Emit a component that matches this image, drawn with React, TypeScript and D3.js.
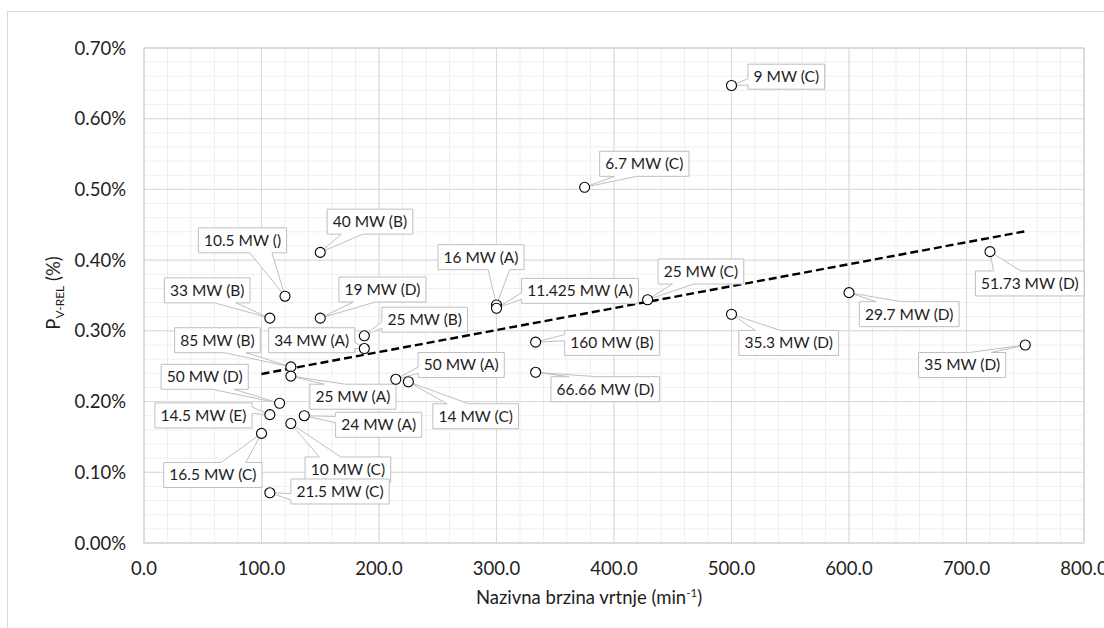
import React from 'react';
import * as d3 from 'd3';

// ---- data ----
const speeds = [500, 375, 150, 120, 107.1, 150, 187.5, 187.5, 125, 125, 214.3, 225, 115.4, 107.1, 136.4, 125, 100, 107.1, 300, 300, 428.6, 333.3, 333.3, 500, 600, 720, 750];
const losses = [0.647, 0.503, 0.411, 0.349, 0.318, 0.318, 0.293, 0.275, 0.249, 0.236, 0.2315, 0.228, 0.1976, 0.1815, 0.18, 0.169, 0.155, 0.071, 0.3366, 0.332, 0.344, 0.284, 0.2414, 0.3235, 0.354, 0.412, 0.28];
const names = ['9 MW (C)', '6.7 MW (C)', '40 MW (B)', '10.5 MW ()', '33 MW (B)', '19 MW (D)', '25 MW (B)', '34 MW (A)', '85 MW (B)', '25 MW (A)', '50 MW (A)', '14 MW (C)', '50 MW (D)', '14.5 MW (E)', '24 MW (A)', '10 MW (C)', '16.5 MW (C)', '21.5 MW (C)', '16 MW (A)', '11.425 MW (A)', '25 MW (C)', '160 MW (B)', '66.66 MW (D)', '35.3 MW (D)', '29.7 MW (D)', '51.73 MW (D)', '35 MW (D)'];
const xTicks = [0, 100, 200, 300, 400, 500, 600, 700, 800];
const yTicks = [0, 0.1, 0.2, 0.3, 0.4, 0.5, 0.6, 0.7];

// ---- layout: label box centre offsets (px) from each point ----
const labelOffsets: [number, number][] = [
  [54.8, -8.8], [59.7, -23.5], [49.7, -30.7], [-42.5, -55.9], [-62.6, -27.8], [62.2, -28.6],
  [60.4, -16.1], [-52.6, -8.3], [-73.4, -26.7], [62, 20.6], [65.4, -14.3], [67.3, 34.5],
  [-74.9, -26.5], [-66.4, 0.8], [74.4, 9.1], [57, 46], [-48.6, 41.6], [70.2, -1.3],
  [-15.5, -47.8], [83.5, -17.4], [53.3, -28.2], [76.4, 0.7], [69.7, 16.9], [57.2, 28.7],
  [60.2, 21.5], [39.8, 31.8], [-63.1, 20],
];

const FONT = 'Lato, "Open Sans", sans-serif';
const TICK_FS = 18.5;
const LABEL_FS = 15.5;
const PL = 144, PR = 1084, PT = 48, PB = 543;

function calloutPath(l: number, t: number, w: number, h: number, tipX: number, tipY: number) {
  const r = l + w, b = t + h;
  const hc = l + w / 2, vc = t + h / 2;
  const dxPos = tipX - hc, dyPos = tipY - vc;
  const dq = (dxPos * h) / w;
  const dz = Math.abs(dyPos) - Math.abs(dq);
  const xg1 = dxPos > 0 ? 7 : 2, xg2 = dxPos > 0 ? 10 : 5;
  const yg1 = dyPos > 0 ? 7 : 2, yg2 = dyPos > 0 ? 10 : 5;
  const x1 = l + (w * xg1) / 12, x2 = l + (w * xg2) / 12;
  const y1 = t + (h * yg1) / 12, y2 = t + (h * yg2) / 12;
  const pts: [number, number][] = [[l, t]];
  if (dz > 0 && dyPos < 0) pts.push([x1, t], [tipX, tipY], [x2, t]);
  pts.push([r, t]);
  if (dz <= 0 && dxPos > 0) pts.push([r, y1], [tipX, tipY], [r, y2]);
  pts.push([r, b]);
  if (dz > 0 && dyPos > 0) pts.push([x2, b], [tipX, tipY], [x1, b]);
  pts.push([l, b]);
  if (dz <= 0 && dxPos < 0) pts.push([l, y2], [tipX, tipY], [l, y1]);
  return 'M' + pts.map((p) => p[0].toFixed(2) + ',' + p[1].toFixed(2)).join('L') + 'Z';
}

function measure(text: string, size: number) {
  const c = document.createElement('canvas').getContext('2d');
  if (!c) return text.length * size * 0.5;
  c.font = `${size}px Lato`;
  return c.measureText(text).width;
}

export default function App() {
  const x = d3.scaleLinear().domain([0, 800]).range([PL, PR]);
  const y = d3.scaleLinear().domain([0, 0.7]).range([PB, PT]);
  const xMinor = d3.range(0, 801, 20);
  const yMinor = d3.range(0, 0.7001, 0.02);

  // linear regression trendline
  const mx = d3.mean(speeds)!, my = d3.mean(losses)!;
  let sxy = 0, sxx = 0;
  speeds.forEach((s, i) => { sxy += (s - mx) * (losses[i] - my); sxx += (s - mx) ** 2; });
  const slope = sxy / sxx, icpt = my - slope * mx;
  const x0 = d3.min(speeds)!, x1 = d3.max(speeds)!;
  const trend = d3.line<number>().x((d) => x(d)).y((d) => y(icpt + slope * d))([x0, x1]);

  const fx = d3.format('.1f');
  const fy = (v: number) => d3.format('.2f')(v) + '%';

  return (
    <svg width={1104} height={628} style={{ position: 'absolute', left: 0, top: 0, background: '#fff' }} fontFamily={FONT}>
      <rect x={7.5} y={11.5} width={1200} height={700} fill="#fff" stroke="#d9d9d9" />
      {/* minor grid */}
      {xMinor.map((v) => (
        <line key={'xm' + v} x1={x(v)} x2={x(v)} y1={PT} y2={PB} stroke="#efefef" strokeWidth={1} />
      ))}
      {yMinor.map((v, i) => (
        <line key={'ym' + i} x1={PL} x2={PR} y1={y(v)} y2={y(v)} stroke="#efefef" strokeWidth={1} />
      ))}
      {/* major grid */}
      {xTicks.map((v) => (
        <line key={'xg' + v} x1={x(v)} x2={x(v)} y1={PT} y2={PB} stroke="#d9d9d9" strokeWidth={1} />
      ))}
      {yTicks.map((v) => (
        <line key={'yg' + v} x1={PL} x2={PR} y1={y(v)} y2={y(v)} stroke="#d9d9d9" strokeWidth={1} />
      ))}
      <rect x={PL} y={PT} width={PR - PL} height={PB - PT} fill="none" stroke="#d0d0d0" />

      {/* tick labels */}
      {yTicks.map((v) => (
        <text key={'yt' + v} x={126} y={y(v) + 6.5} textAnchor="end" fontSize={TICK_FS} fill="#1e1e1e">{fy(v)}</text>
      ))}
      {xTicks.map((v) => (
        <text key={'xt' + v} x={x(v)} y={575} textAnchor="middle" fontSize={TICK_FS} fill="#1e1e1e">{fx(v)}</text>
      ))}

      {/* axis titles */}
      <text x={589} y={604} textAnchor="middle" fontSize={TICK_FS} fill="#1e1e1e">
        Nazivna brzina vrtnje (min<tspan fontSize={11.5} dy={-7}>-1</tspan><tspan dy={7}>)</tspan>
      </text>
      <text transform="translate(60,293) rotate(-90)" textAnchor="middle" fontSize={TICK_FS} fill="#1e1e1e">
        P<tspan fontSize={12} dy={4}>V-REL</tspan><tspan dy={-4}> (%)</tspan>
      </text>

      {/* trendline */}
      <path d={trend || ''} fill="none" stroke="#000" strokeWidth={2.4} strokeDasharray="8,4" />

      {/* callout labels */}
      {names.map((n, i) => {
        const px = x(speeds[i]), py = y(losses[i]);
        const tw = measure(n, LABEL_FS);
        const w = tw + 11, h = 25;
        const cx = px + labelOffsets[i][0], cy = py + labelOffsets[i][1];
        const l = cx - w / 2, t = cy - h / 2;
        return (
          <g key={'lb' + i}>
            <path d={calloutPath(l, t, w, h, px, py)} fill="#fff" stroke="#bfbfbf" strokeWidth={1} />
            <text x={cx} y={cy + 5.4} textAnchor="middle" fontSize={LABEL_FS} fill="#1e1e1e">{n}</text>
          </g>
        );
      })}

      {/* markers */}
      {speeds.map((s, i) => (
        <circle key={'pt' + i} cx={x(s)} cy={y(losses[i])} r={5} fill="#fff" stroke="#000" strokeWidth={1.1} />
      ))}
    </svg>
  );
}
